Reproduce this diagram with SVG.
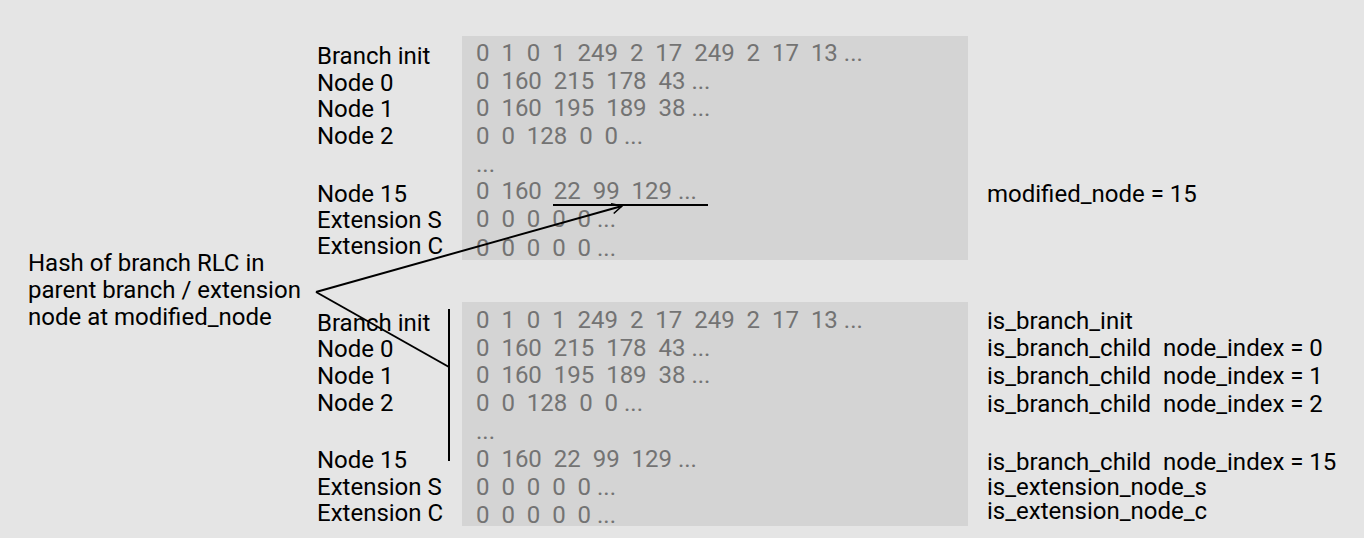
<svg xmlns="http://www.w3.org/2000/svg" width="1364" height="538" viewBox="0 0 1364 538">
<defs>
<style>
.lbl{font-family:Roboto,"Liberation Sans",sans-serif;font-size:24px;fill:#000;white-space:pre}
.num{font-family:Roboto,"Liberation Sans",sans-serif;font-size:24px;fill:#737373;white-space:pre}
.box{fill:#d4d4d4}
.ln{stroke:#000;stroke-width:2;fill:none}
</style>
<marker id="ah" viewBox="0 0 12 12" refX="11" refY="6" markerWidth="12" markerHeight="12" markerUnits="userSpaceOnUse" orient="auto">
<path d="M1,1 L11,6 L1,11" fill="none" stroke="#000" stroke-width="1.6"/>
</marker>
</defs>
<rect width="1364" height="538" fill="#e5e5e5"/>
<g id="top-table">
<rect class="box" x="462" y="36" width="506" height="224"/>
<text class="lbl" x="317" y="64">Branch init</text>
<text class="lbl" x="317" y="91">Node 0</text>
<text class="lbl" x="317" y="117">Node 1</text>
<text class="lbl" x="317" y="144">Node 2</text>
<text class="lbl" x="317" y="202">Node 15</text>
<text class="lbl" x="317" y="228">Extension S</text>
<text class="lbl" x="317" y="254">Extension C</text>
<text class="num" x="476" y="61">0  1  0  1  249  2  17  249  2  17  13 ...</text>
<text class="num" x="476" y="89">0  160  215  178  43 ...</text>
<text class="num" x="476" y="116">0  160  195  189  38 ...</text>
<text class="num" x="476" y="144">0  0  128  0  0 ...</text>
<text class="num" x="476" y="172">...</text>
<text class="num" x="476" y="199">0  160  22  99  129 ...</text>
<text class="num" x="476" y="227">0  0  0  0  0 ...</text>
<text class="num" x="476" y="256">0  0  0  0  0 ...</text>
</g>
<g id="bottom-table">
<rect class="box" x="462" y="302" width="506" height="224"/>
<text class="lbl" x="317" y="331">Branch init</text>
<text class="lbl" x="317" y="357">Node 0</text>
<text class="lbl" x="317" y="384">Node 1</text>
<text class="lbl" x="317" y="411">Node 2</text>
<text class="lbl" x="317" y="468">Node 15</text>
<text class="lbl" x="317" y="495">Extension S</text>
<text class="lbl" x="317" y="521">Extension C</text>
<text class="num" x="476" y="328">0  1  0  1  249  2  17  249  2  17  13 ...</text>
<text class="num" x="476" y="356">0  160  215  178  43 ...</text>
<text class="num" x="476" y="383">0  160  195  189  38 ...</text>
<text class="num" x="476" y="411">0  0  128  0  0 ...</text>
<text class="num" x="476" y="439">...</text>
<text class="num" x="476" y="467">0  160  22  99  129 ...</text>
<text class="num" x="476" y="495">0  0  0  0  0 ...</text>
<text class="num" x="476" y="523">0  0  0  0  0 ...</text>
</g>
<g id="source">
<text class="lbl" x="28" y="271">Hash of branch RLC in</text>
<text class="lbl" x="28" y="298">parent branch / extension</text>
<text class="lbl" x="28" y="325">node at modified_node</text>
</g>
<g id="annotations">
<text class="lbl" x="987" y="202">modified_node = 15</text>
<text class="lbl" x="987" y="329">is_branch_init</text>
<text class="lbl" x="987" y="356">is_branch_child  node_index = 0</text>
<text class="lbl" x="987" y="384">is_branch_child  node_index = 1</text>
<text class="lbl" x="987" y="412">is_branch_child  node_index = 2</text>
<text class="lbl" x="987" y="470">is_branch_child  node_index = 15</text>
<text class="lbl" x="987" y="495">is_extension_node_s</text>
<text class="lbl" x="987" y="519">is_extension_node_c</text>
</g>
<g id="connectors">
<line class="ln" x1="553" y1="205" x2="708" y2="205"/>
<line class="ln" x1="316" y1="292" x2="622" y2="206" marker-end="url(#ah)"/>
<line class="ln" x1="316" y1="292" x2="449" y2="367"/>
<line class="ln" x1="449" y1="309" x2="449" y2="461"/>
</g>
</svg>
